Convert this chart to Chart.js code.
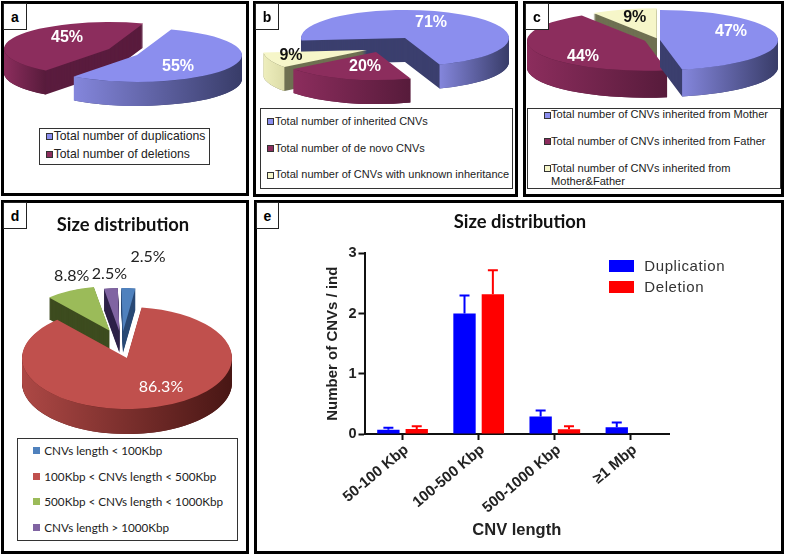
<!DOCTYPE html>
<html>
<head>
<meta charset="utf-8">
<title>CNV size distribution</title>
<script src="https://cdn.jsdelivr.net/npm/chart.js@4"></script>
<style>
	html, body { margin: 0; padding: 0; background: #fff; overflow: hidden; }
	body { position: relative; width: 787px; height: 556px; font-family: "Liberation Sans", sans-serif; }
	.panel { position: absolute; box-sizing: border-box; border: 3px solid #000; background: #fff; }
	.tag { position: absolute; box-sizing: border-box; border: 1px solid #222; background: #fff; z-index: 5;
		font: bold 14px "Liberation Sans", sans-serif; display: flex; align-items: center; justify-content: center; }
	.holder { position: absolute; z-index: 2; }
	.legend { position: absolute; box-sizing: border-box; border: 1px solid #333; background: #fff; z-index: 4; color: #222; }
	.legend.bare { border: none; background: none; color: #333; }
	.row { position: absolute; line-height: 13.4px; }
	.swatch { position: absolute; box-sizing: border-box; }
	.title { position: absolute; z-index: 4; font: bold 18.4px Lato, sans-serif; color: #111; white-space: nowrap; transform: translateX(-50%); }
</style>
</head>
<body>
<script>
// panel a
const dupDelLabels = ['Total number of duplications', 'Total number of deletions'];
const dupDelValues = [55, 45];
// panel b
const originLabels = ['Total number of inherited CNVs', 'Total number of de novo CNVs', 'Total number of CNVs with unknown inheritance'];
const originValues = [71, 20, 9];
// panel c
const parentLabels = ['Total number of CNVs inherited from Mother', 'Total number of CNVs inherited from Father', 'Total number of CNVs inherited from Mother&Father'];
const parentValues = [47, 44, 9];
// panel d
const sizeLabels = ['CNVs length < 100Kbp', '100Kbp < CNVs length < 500Kbp', '500Kbp < CNVs length < 1000Kbp', 'CNVs length > 1000Kbp'];
const sizeValues = [2.5, 86.3, 8.8, 2.5];
// panel e
const lengthCategories = ['50-100 Kbp', '100-500 Kbp', '500-1000 Kbp', '≥1 Mbp'];
const duplicationMeans = [0.07, 2.0, 0.29, 0.11];
const duplicationTops = [0.105, 2.3, 0.39, 0.19];
const deletionMeans = [0.085, 2.32, 0.08, 0];
const deletionTops = [0.13, 2.72, 0.13, 0];
const yTicks = [0, 1, 2, 3];

const BLUE = { top: '#8b8eee', cut: '#3b3f6e', wall: ['#8486dc', '#383c68'] };
const WINE = { top: '#8c2d5d', cut: '#5a1c3e', wall: ['#8c2d5d', '#571b3b'] };
const CREAM = { top: '#f6f6c9', cut: '#6f7052', wall: ['#eeeebd', '#dcdca8'] };
const D_BLUE = { top: '#4f81bd', cut: '#2a4a75', wall: ['#4f81bd', '#2a4a75'] };
const D_RED = { top: '#c0504d', cut: '#5a1f1d', wall: ['#ad4845', '#481614'] };
const D_GREEN = { top: '#9bbb59', cut: '#3d4c1f', wall: ['#7d9847', '#3d4c1f'] };
const D_PURPLE = { top: '#8064a2', cut: '#2e2249', wall: ['#8064a2', '#2e2249'] };

const addPanel = (left, top, width, height, tag, tagW, tagH) => {
	const panel = document.createElement('div');
	panel.className = 'panel';
	panel.style.cssText = `left:${left}px;top:${top}px;width:${width}px;height:${height}px`;
	document.body.appendChild(panel);
	const box = document.createElement('div');
	box.className = 'tag';
	box.textContent = tag;
	box.style.cssText = `left:${left + 2}px;top:${top + 2}px;width:${tagW}px;height:${tagH}px`;
	document.body.appendChild(box);
};

const addLegend = (cfg) => {
	const box = document.createElement('div');
	box.className = cfg.bare ? 'legend bare' : 'legend';
	const [l, t, r, b] = cfg.box;
	box.style.cssText = `left:${l}px;top:${t}px;width:${r - l}px;height:${b - t}px;font:${cfg.font};letter-spacing:${cfg.spacing || 0}px`;
	cfg.labels.forEach((label, i) => {
		const sw = document.createElement('div');
		sw.className = 'swatch';
		sw.style.cssText = `left:${cfg.swatchX - l}px;top:${cfg.rows[i] - t - cfg.swatchSize / 2 - 1}px;width:${cfg.swatchWidth || cfg.swatchSize}px;height:${cfg.swatchSize}px;background:${cfg.colors[i]};border:${cfg.swatchBorder ? '1px solid #333' : 'none'}`;
		box.appendChild(sw);
		const row = document.createElement('div');
		row.className = 'row';
		row.textContent = label;
		const wrapped = cfg.wrapAt === i;
		row.style.cssText = `left:${cfg.textX - l}px;top:${cfg.rows[i] - t - 7.7}px;width:${wrapped ? 215 : 260}px;white-space:${wrapped ? 'normal' : 'nowrap'}`;
		box.appendChild(row);
	});
	document.body.appendChild(box);
};

const drawSlice = (ctx, arc, i, cfg) => {
	const { x, y, startAngle, endAngle, outerRadius } = arc;
	const [shiftX, shiftY] = cfg.shift[i];
	const s = cfg.shrink ? cfg.shrink[i] : 1;
	const ax = x + shiftX;
	const ay = y + shiftY;
	const rx = outerRadius * s;
	const ry = rx * cfg.flat;
	const depth = cfg.depth * s;
	const look = cfg.looks[i];

	// cut faces: stack the slice downwards
	ctx.fillStyle = look.cut;
	for (let d = depth; d > 0; d -= 1) {
		ctx.beginPath();
		ctx.moveTo(ax, ay + d);
		ctx.ellipse(ax, ay + d, rx, ry, 0, startAngle, endAngle);
		ctx.closePath();
		ctx.fill();
	}

	// outer wall, only the part that faces the viewer
	for (let n = -1; n <= 2; n++) {
		const a0 = Math.max(startAngle, n * 2 * Math.PI);
		const a1 = Math.min(endAngle, n * 2 * Math.PI + Math.PI);
		if (a1 <= a0) continue;
		const x0 = ax + rx * Math.cos(a1);
		const x1 = ax + rx * Math.cos(a0);
		const grad = ctx.createLinearGradient(x0, 0, x1, 0);
		grad.addColorStop(0, look.wall[0]);
		grad.addColorStop(1, look.wall[1]);
		ctx.fillStyle = grad;
		ctx.beginPath();
		ctx.ellipse(ax, ay, rx, ry, 0, a0, a1);
		ctx.ellipse(ax, ay + depth, rx, ry, 0, a1, a0, true);
		ctx.closePath();
		ctx.fill();
	}

	ctx.save();
	ctx.translate(ax, ay);
	ctx.scale(s, s * cfg.flat);
	ctx.translate(-x, -y);
	arc.draw(ctx);
	ctx.restore();
};

const addPie = (cfg) => {
	const W = 320;
	const H = 260;
	const holder = document.createElement('div');
	holder.className = 'holder';
	holder.style.cssText = `left:${cfg.center[0] - W / 2}px;top:${cfg.center[1] - H / 2}px;width:${W}px;height:${H}px`;
	const canvas = document.createElement('canvas');
	canvas.width = W;
	canvas.height = H;
	holder.appendChild(canvas);
	document.body.appendChild(holder);

	const pie3d = {
		id: 'pie3d',
		beforeDatasetsDraw(chart) {
			const { ctx } = chart;
			const arcs = chart.getDatasetMeta(0).data;
			cfg.order.forEach((i) => drawSlice(ctx, arcs[i], i, cfg));
			ctx.textAlign = 'center';
			ctx.textBaseline = 'middle';
			ctx.font = cfg.labelFont;
			arcs.forEach((arc, i) => {
				ctx.fillStyle = cfg.labelColors[i];
				const text = `${cfg.values[i]}%`;
				ctx.fillText(text, arc.x + cfg.shift[i][0] + cfg.labelAt[i][0], arc.y + cfg.shift[i][1] + cfg.labelAt[i][1]);
			});
			return false;
		},
	};

	new Chart(canvas, {
		type: 'pie',
		data: {
			labels: cfg.labels,
			datasets: [{
				data: cfg.values,
				backgroundColor: cfg.looks.map((l) => l.top),
				borderWidth: 0,
			}],
		},
		options: {
			responsive: false,
			animation: false,
			events: [],
			rotation: cfg.rotation,
			radius: cfg.radius,
			plugins: { legend: { display: false }, tooltip: { enabled: false } },
		},
		plugins: [pie3d],
	});
};

addPanel(1, 1, 248, 195, 'a', 24, 27);
addPanel(253, 1, 265, 196, 'b', 24, 27);
addPanel(523, 1, 261, 196, 'c', 24, 27);
addPanel(1, 200, 248, 354, 'd', 24, 27);
addPanel(254, 200, 530, 354, 'e', 23, 27);

addPie({
	labels: dupDelLabels, values: dupDelValues, center: [123, 52], radius: 105, flat: 0.257, depth: 24, rotation: 19,
	looks: [BLUE, WINE], order: [1, 0], shift: [[14, 3], [-14, -3]],
	labelAt: [[41, 12], [-42, -11]], labelColors: ['#fff', '#fff'], labelFont: 'bold 16px "Liberation Sans"',
});
addPie({
	labels: originLabels, values: originValues, center: [390, 45], radius: 104, flat: 0.27, depth: 24, rotation: 265,
	looks: [BLUE, WINE, CREAM], order: [0, 2, 1], shift: [[15, -7], [-14, 7], [-23, 5]],
	labelAt: [[26, -15], [-11, 15], [-76, 6]], labelColors: ['#fff', '#fff', '#111'], labelFont: 'bold 16px "Liberation Sans"',
});
addPie({
	labels: parentLabels, values: parentValues, center: [652, 40], radius: 118, flat: 0.254, depth: 27, rotation: 0,
	looks: [BLUE, WINE, CREAM], order: [2, 1, 0], shift: [[8, 0], [-7, 0.7], [4.7, -1.7]],
	labelAt: [[71, -8], [-62, 16], [-22, -21]], labelColors: ['#fff', '#fff', '#111'], labelFont: 'bold 16px "Liberation Sans"',
});
addPie({
	labels: sizeLabels, values: sizeValues, center: [127.3, 358.3], radius: 105, flat: 0.486, depth: 25, rotation: -1,
	looks: [D_BLUE, D_RED, D_GREEN, D_PURPLE], order: [0, 3, 2, 1], shrink: [0.85, 1, 0.87, 0.85],
	shift: [[-4, -26.6], [0, 0], [-17.3, -27.3], [-7.6, -26.6]],
	labelAt: [[25, -75], [34, 29], [-38, -55], [-10, -58]], labelColors: ['#222', '#fff', '#222', '#222'], labelFont: '16px Lato',
});

addLegend({
	labels: dupDelLabels, colors: [BLUE.top, WINE.top], box: [39, 128, 210, 165], rows: [136.7, 154.3],
	swatchX: 44.5, swatchSize: 7, swatchBorder: true, textX: 52.7, font: '12.2px "Liberation Sans"',
});
addLegend({
	labels: originLabels, colors: [BLUE.top, WINE.top, CREAM.top], box: [260, 108, 513, 189], rows: [121.7, 148.3, 175],
	swatchX: 265.5, swatchSize: 7, swatchBorder: true, textX: 274, font: '11px "Liberation Sans"',
});
addLegend({
	labels: parentLabels, colors: [BLUE.top, WINE.top, CREAM.top], box: [527, 108, 781, 189], rows: [115, 141.7, 168.3],
	swatchX: 542.5, swatchSize: 7, swatchBorder: true, textX: 550, font: '11.1px "Liberation Sans"', wrapAt: 2,
});
addLegend({
	labels: sizeLabels, colors: [D_BLUE.top, D_RED.top, D_GREEN.top, D_PURPLE.top], box: [17, 438, 238, 541], rows: [450.7, 476.7, 501.7, 527.3],
	swatchX: 32.3, swatchSize: 7, textX: 43.3, font: '11.7px Lato',
});
addLegend({
	labels: ['Duplication', 'Deletion'], colors: ['#0000ff', '#ff0000'], box: [600, 255, 740, 300], rows: [267, 288],
	bare: true, swatchX: 609.3, swatchSize: 12.5, swatchWidth: 25, textX: 644.3, font: '15px "Liberation Sans"', spacing: 0.6,
});

const titleD = document.createElement('div');
titleD.className = 'title';
titleD.textContent = 'Size distribution';
titleD.style.cssText = 'left:123px;top:213px';
document.body.appendChild(titleD);
const titleE = document.createElement('div');
titleE.className = 'title';
titleE.textContent = 'Size distribution';
titleE.style.cssText = 'left:520px;top:210px';
document.body.appendChild(titleE);

// bar panel
const barHolder = document.createElement('div');
barHolder.className = 'holder';
barHolder.style.cssText = 'left:255px;top:201px;width:528px;height:352px';
const barCanvas = document.createElement('canvas');
barCanvas.width = 528;
barCanvas.height = 352;
barHolder.appendChild(barCanvas);
document.body.appendChild(barHolder);

const errorBars = {
	id: 'errorBars',
	afterDatasetsDraw(chart) {
		const { ctx } = chart;
		const yScale = chart.scales.y;
		chart.data.datasets.forEach((set, d) => {
			chart.getDatasetMeta(d).data.forEach((bar, i) => {
				if (set.data[i] === 0) return;
				const top = yScale.getPixelForValue(set.errorTops[i]);
				ctx.strokeStyle = set.backgroundColor;
				ctx.lineWidth = 2;
				ctx.beginPath();
				ctx.moveTo(bar.x, bar.y);
				ctx.lineTo(bar.x, top);
				ctx.moveTo(bar.x - 5, top);
				ctx.lineTo(bar.x + 5, top);
				ctx.stroke();
			});
		});
	},
};

new Chart(barCanvas, {
	type: 'bar',
	data: {
		labels: lengthCategories,
		datasets: [
			{ label: 'Duplication', data: duplicationMeans, errorTops: duplicationTops, backgroundColor: '#0000ff' },
			{ label: 'Deletion', data: deletionMeans, errorTops: deletionTops, backgroundColor: '#ff0000' },
		],
	},
	options: {
		responsive: false,
		animation: false,
		events: [],
		categoryPercentage: 0.745,
		barPercentage: 0.788,
		layout: { padding: { left: 69, right: 114, top: 52.3, bottom: 0 } },
		plugins: { legend: { display: false }, tooltip: { enabled: false } },
		scales: {
			x: {
				afterFit: (scale) => { scale.height = 119; },
				grid: { display: true, offset: false, drawOnChartArea: false, tickLength: 6, tickWidth: 2, tickColor: '#111' },
				border: { color: '#111', width: 2 },
				ticks: { autoSkip: false, minRotation: 40, maxRotation: 40, padding: 1, labelOffset: 4, color: '#222', font: { family: 'Liberation Sans', weight: 'bold', size: 15 } },
				title: { display: true, text: 'CNV length', color: '#222', font: { family: 'Liberation Sans', weight: 'bold', size: 16.5 }, padding: { top: 0, bottom: 13 } },
			},
			y: {
				min: 0,
				max: 3,
				afterFit: (scale) => { scale.width = 40.5; },
				afterBuildTicks: (scale) => { scale.ticks = yTicks.map((value) => ({ value })); },
				grid: { display: true, drawOnChartArea: false, tickLength: 6, tickWidth: 2, tickColor: '#111' },
				border: { color: '#111', width: 2 },
				ticks: { padding: 2, color: '#222', font: { family: 'Liberation Sans', weight: 'bold', size: 14.5 } },
				title: { display: true, text: 'Number of CNVs / ind', color: '#222', font: { family: 'Liberation Sans', weight: 'bold', size: 15 }, padding: 0 },
			},
		},
	},
	plugins: [errorBars],
});
</script>
</body>
</html>
